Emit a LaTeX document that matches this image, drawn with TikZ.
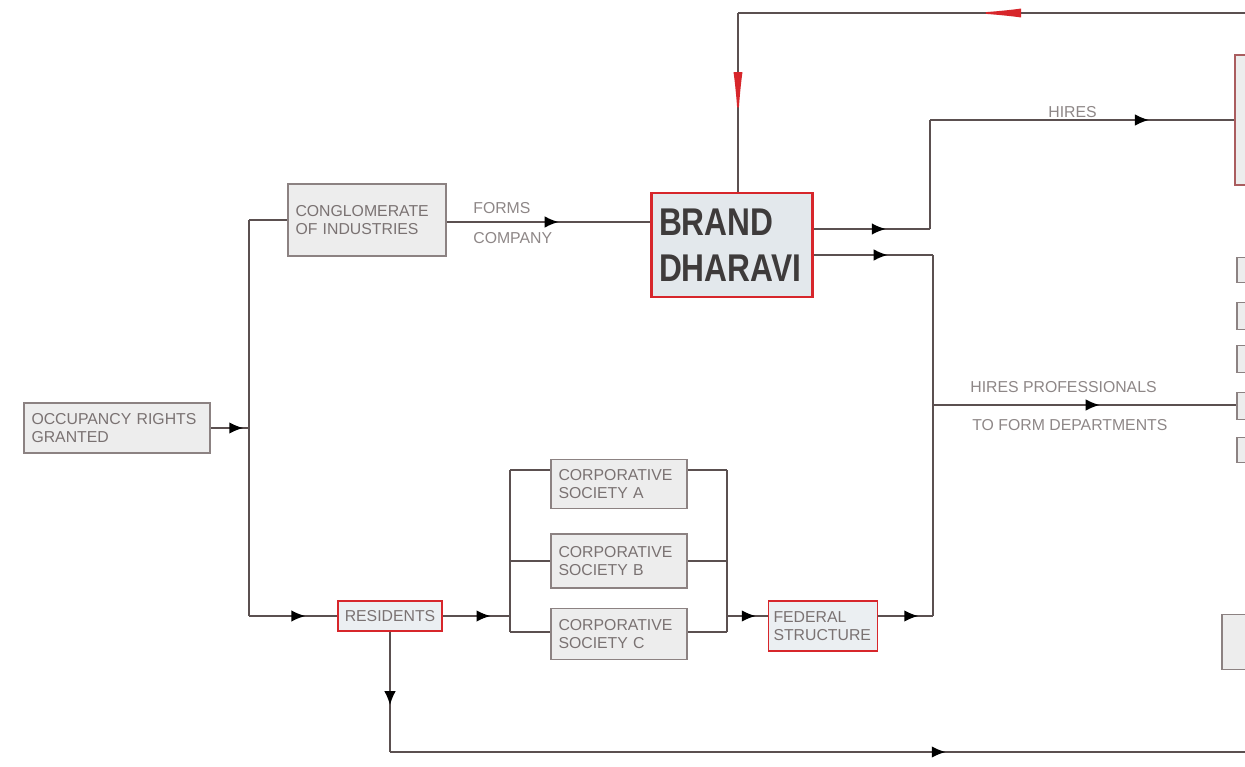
\documentclass[tikz,border=0pt]{standalone}
\usepackage{fontspec}
\setmainfont{Liberation Sans}
\newfontfamily\brandfont[FakeStretch=0.82]{Liberation Sans}
\usetikzlibrary{arrows.meta, decorations.markings, positioning, calc}

\definecolor{linegrey}{HTML}{5B5050}
\definecolor{boxline}{HTML}{8C8282}
\definecolor{boxfill}{HTML}{EDEDED}
\definecolor{boxtext}{HTML}{7A7272}
\definecolor{brandred}{HTML}{D7262B}
\definecolor{brandfill}{HTML}{E3E8EC}
\definecolor{brandtext}{HTML}{3E3B3B}

\begin{document}
\begin{tikzpicture}[
    x=0.02cm, y=-0.02cm,
    box/.style={draw=boxline, fill=boxfill, line width=1pt, text=boxtext, align=left,
        font=\fontsize{9}{10.5}\selectfont, inner xsep=0.15cm, inner ysep=2pt},
    redbox/.style={box, draw=brandred, fill=brandfill!70!white, line width=1.1pt},
    stub/.style={draw=boxline, fill=boxfill, line width=1pt, inner sep=0pt},
    wire/.style={draw=linegrey, line width=1pt},
    arrowat/.style={postaction={decorate}, decoration={markings,
        mark=at position #1 with {\arrow[black]{Latex[length=2.8mm, width=2.3mm]}}}},
    redarrowat/.style={postaction={decorate}, decoration={markings,
        mark=at position #1 with {\arrow[brandred]{Latex[length=1cm, width=1.8mm]}}}},
    lbl/.style={font=\fontsize{9}{10.5}\selectfont, text=boxtext!85!white, inner sep=0pt}
]
\useasboundingbox (0,0) rectangle (1245,767);
\fill[white] (0,0) rectangle (1245,767);
\clip (0,0) rectangle (1245,767);

% Boxes
\node[box, text width=3.42cm, minimum height=1cm] (occ) at (117,428) {OCCUPANCY RIGHTS\\GRANTED};
\node[box, text width=2.86cm, minimum height=1.44cm] (cong) at (367,220) {CONGLOMERATE\\OF INDUSTRIES};
\node[redbox, fill=brandfill, line width=1.5pt, text width=2.92cm, minimum height=2.08cm, text=brandtext,
    font=\brandfont\bfseries\fontsize{22}{26}\selectfont] (brand) at (732,245) {BRAND\\DHARAVI};
\node[redbox, align=center, minimum width=2.08cm, minimum height=0.6cm, inner xsep=0.1cm] (resid) at (390,616) {RESIDENTS};
\node[box, text width=2.42cm, minimum height=0.98cm] (csa) at (619,484) {CORPORATIVE\\SOCIETY A};
\node[box, text width=2.42cm, minimum height=1.08cm] (csb) at (619,561) {CORPORATIVE\\SOCIETY B};
\node[box, text width=2.42cm, minimum height=1.02cm] (csc) at (619,634) {CORPORATIVE\\SOCIETY C};
\node[redbox, text width=1.98cm, inner xsep=0.1cm, minimum height=1cm] (fed) at (823,626) {FEDERAL\\STRUCTURE};

% Boxes cut by the right edge
\node[stub, draw=boxline!60!brandred, minimum width=0.6cm, minimum height=2.6cm] (hirebox) at (1250,120) {};
\node[stub, minimum width=0.56cm, minimum height=0.5cm] (dept1) at (1251,270) {};
\node[stub, minimum width=0.56cm, minimum height=0.54cm] (dept2) at (1251,316) {};
\node[stub, minimum width=0.56cm, minimum height=0.54cm] (dept3) at (1251,359) {};
\node[stub, minimum width=0.56cm, minimum height=0.54cm] (dept4) at (1251,406) {};
\node[stub, minimum width=0.56cm, minimum height=0.5cm] (dept5) at (1251,450) {};
\node[stub, minimum width=0.8cm, minimum height=1.1cm] (lowbox) at (1242,642) {};

% Junctions
\coordinate (busTop) at (249,220);
\coordinate (busMid) at (249,428);
\coordinate (busBot) at (249,616);
\coordinate (sL1) at (510,470);
\coordinate (sL2) at (510,561);
\coordinate (sL3) at (510,632);
\coordinate (sLin) at (510,616);
\coordinate (sR1) at (727,470);
\coordinate (sR2) at (727,561);
\coordinate (sR3) at (727,632);
\coordinate (sRout) at (727,616);
\coordinate (mTop) at (933,255);
\coordinate (mHire) at (933,405);
\coordinate (mBot) at (933,616);
\coordinate (hBot) at (930,229);
\coordinate (hTop) at (930,120);
\coordinate (tTurn) at (738,13);
\coordinate (tEnd) at (1245,13);
\coordinate (bTurn) at (390,752);
\coordinate (bEnd) at (1245,752);

% Left bus
\draw[wire] (busTop) -- (busBot);
\draw[wire, arrowat=0.85] (occ.east) -- (busMid);
\draw[wire] (busTop) -- (cong.west);
\draw[wire, arrowat=0.64] (busBot) -- (resid.west);
\draw[wire, arrowat=0.55] (cong.east |- 0,222) -- (brand.west |- 0,222);

% Societies
\draw[wire, arrowat=0.71] (resid.east) -- (sLin);
\draw[wire] (sL1) -- (sL3);
\draw[wire] (sL1) -- (sL1 -| csa.west);
\draw[wire] (sL2) -- (csb.west);
\draw[wire] (sL3) -- (sL3 -| csc.west);
\draw[wire] (csa.east |- sR1) -- (sR1);
\draw[wire] (csb.east) -- (sR2);
\draw[wire] (csc.east |- sR3) -- (sR3);
\draw[wire] (sR1) -- (sR3);
\draw[wire, arrowat=0.71] (sRout) -- (sRout -| fed.west);
\draw[wire, arrowat=0.73] (mBot -| fed.east) -- (mBot);

% Brand Dharavi outputs
\draw[wire, arrowat=0.62] (brand.east |- hBot) -- (hBot);
\draw[wire] (hBot) -- (hTop);
\draw[wire, arrowat=0.72] (hTop) -- (hirebox.west |- hTop);
\draw[wire, arrowat=0.62] (brand.east |- mTop) -- (mTop);
\draw[wire] (mTop) -- (mBot);
\draw[wire, arrowat=0.55] (mHire) -- (dept4.west |- mHire);

% Feedback into Brand Dharavi
\draw[wire, redarrowat=0.54] (tEnd) -- (tTurn);
\draw[wire, redarrowat=0.61] (tTurn) -- (tTurn |- brand.north);

% Residents to the right
\draw[wire, arrowat=0.61] (resid.south) -- (bTurn);
\draw[wire, arrowat=0.65] (bTurn) -- (bEnd);

% Labels
\node[lbl, anchor=west] (forms) at (473,208) {FORMS};
\node[lbl, anchor=west] (company) at (473,238) {COMPANY};
\node[lbl, anchor=west] (hires) at (1048,112) {HIRES};
\node[lbl, anchor=west] (hirespro) at (970,387) {HIRES PROFESSIONALS};
\node[lbl, anchor=west] (todept) at (972,425) {TO FORM DEPARTMENTS};

\end{tikzpicture}
\end{document}
